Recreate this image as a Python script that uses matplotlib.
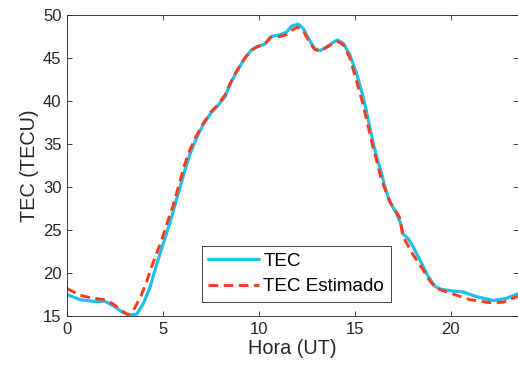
import matplotlib
matplotlib.use("Agg")
import matplotlib.pyplot as plt

plt.rcParams['font.family'] = ['Liberation Sans', 'DejaVu Sans']

hours_tec = [0.0, 0.68, 1.37, 1.98, 2.41, 2.85, 3.28, 3.63, 3.97, 4.32, 4.67, 5.02, 5.36,
             5.71, 6.06, 6.4, 6.75, 7.1, 7.53, 7.88, 8.23, 8.49, 8.84, 9.27, 9.6, 9.9,
             10.3, 10.62, 11.1, 11.44, 11.7, 12.05, 12.3, 12.57, 12.9, 13.18, 13.5, 13.87,
             14.08, 14.4, 14.74, 15.09, 15.43, 15.7, 15.95, 16.2, 16.39, 16.56, 16.82,
             17.17, 17.38, 17.48, 17.78, 18.04, 18.39, 18.82, 19.2, 19.51, 20.12, 20.64,
             21.34, 22.2, 22.9, 23.5]
tec = [17.5, 16.9, 16.7, 16.7, 16.2, 15.5, 15.1, 15.2, 16.4, 18.3, 21.0, 23.45, 25.8,
       28.6, 31.3, 33.8, 35.7, 37.3, 38.7, 39.5, 40.5, 41.9, 43.4, 45.0, 45.9, 46.3,
       46.6, 47.5, 47.7, 48.0, 48.7, 48.95, 48.45, 47.3, 46.1, 45.85, 46.25, 46.8,
       47.1, 46.7, 45.35, 43.2, 40.5, 37.8, 35.1, 33.0, 31.6, 30.0, 28.3,
       26.9, 25.8, 24.6, 24.0, 23.05, 21.5, 19.6, 18.4, 18.1, 17.9, 17.8,
       17.25, 16.8, 17.05, 17.6]

hours_est = [0.0, 0.68, 1.37, 1.98, 2.41, 2.85, 3.2, 3.52, 3.85, 4.15, 4.5, 4.93, 5.23,
             5.54, 5.8, 6.1, 6.4, 6.75, 7.1, 7.53, 7.88, 8.23, 8.49, 8.84, 9.27, 9.6, 9.9,
             10.3, 10.62, 11.1, 11.44, 11.7, 12.0, 12.3, 12.57, 12.9, 13.18, 13.5, 13.87,
             14.15, 14.45, 14.74, 15.05, 15.4, 15.7, 15.95, 16.13, 16.39, 16.82, 17.34,
             17.52, 18.04, 18.56, 18.9, 19.25, 20.12, 20.99, 22.03, 22.73, 23.5]
tec_est = [18.2, 17.4, 17.05, 16.9, 16.4, 15.6, 15.1, 15.9, 17.3, 19.0, 21.3, 23.8, 25.9,
           27.9, 30.0, 32.4, 34.3, 36.0, 37.4, 38.8, 39.6, 40.7, 42.0, 43.5, 45.0, 45.9, 46.3,
           46.6, 47.4, 47.5, 47.7, 48.2, 48.6, 48.2, 47.1, 46.0, 45.8, 46.2, 46.7,
           46.9, 46.4, 45.0, 42.6, 39.8, 37.0, 34.6, 33.1, 30.8, 28.3, 26.4,
           24.2, 22.1, 20.35, 19.1, 18.2, 17.55, 16.9, 16.55, 16.6, 17.3]

fig = plt.figure(figsize=(5.18, 3.72), dpi=100)
ax = fig.add_axes([67/518, 1 - 316/372, 451/518, 301/372])

ax.plot(hours_tec, tec, color='#1ec0ec', lw=2.3, label='TEC',
        solid_joinstyle='round', solid_capstyle='round')
ax.plot(hours_est, tec_est, color='#ff3a1c', lw=2.1, ls=(0, (3.3, 1.9)),
        label='TEC Estimado', dash_joinstyle='round')

ax.set_xlim(0, 23.5)
ax.set_ylim(15, 50)
ax.set_xticks([0, 5, 10, 15, 20])
ax.set_yticks([15, 20, 25, 30, 35, 40, 45, 50])
ax.tick_params(direction='in', top=True, right=True, labelsize=12, colors='#262626',
               length=3.5, width=0.6, pad=4)
for s in ax.spines.values():
    s.set_color('#262626')
    s.set_linewidth(0.6)
ax.set_xlabel('Hora (UT)', fontsize=14.3, color='#262626', labelpad=2)
ax.set_ylabel('TEC (TECU)', fontsize=14.3, color='#262626', labelpad=3)

leg = ax.legend(loc='lower left', bbox_to_anchor=(0.299, 0.047), borderaxespad=0,
                fontsize=13.6, frameon=True, fancybox=False, framealpha=1,
                edgecolor='#262626', handlelength=2.7, handletextpad=0.2,
                borderpad=0.35, labelspacing=0.45)
leg.get_frame().set_linewidth(0.6)

fig.savefig('out.png', dpi=100)
